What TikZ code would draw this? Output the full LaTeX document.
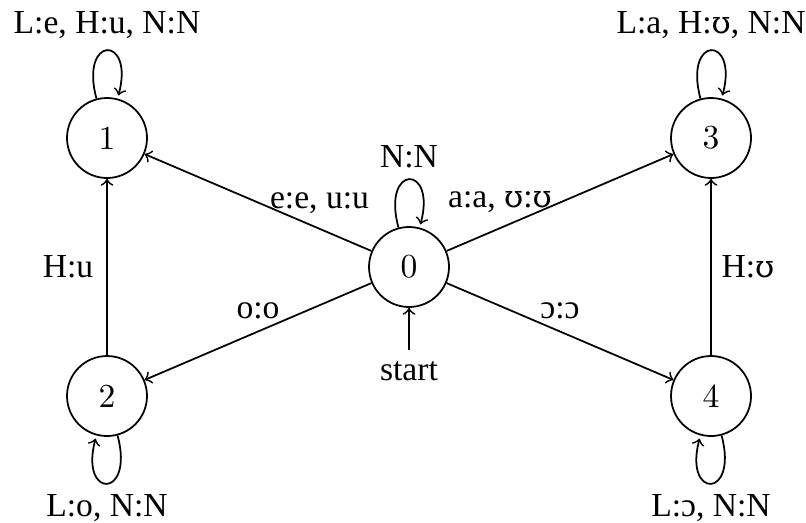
\documentclass[tikz,border=0pt]{standalone}
\usepackage{fontspec}
\newfontfamily\lblfont{Liberation Serif}
\newfontfamily\ipafont[Scale=0.92]{DejaVu Serif}
\newcommand{\upsi}{{\ipafont ʊ}}
\begin{document}
\begin{tikzpicture}[x=0.3125pt,y=0.3125pt,
  st/.style={circle,draw,line width=0.55pt,minimum size=25pt,inner sep=0pt,font=\fontsize{10.5}{12}\selectfont},
  lbl/.style={font=\lblfont\fontsize{10.5}{12}\selectfont,inner sep=3.33pt},
  tr/.style={->,line width=0.55pt},
]
\useasboundingbox (0,0) rectangle (806,522);
\node[st] (n0) at (409,255) {0};
\node[st] (n1) at (107,384) {1};
\node[st] (n2) at (107,126) {2};
\node[st] (n3) at (711,384) {3};
\node[st] (n4) at (711,126) {4};
\node[lbl,anchor=north] (start) at (409,172) {start};

\draw[tr] (start) -- (n0);
\draw[tr] (n0) -- (n1);
\draw[tr] (n0) -- (n2);
\draw[tr] (n0) -- (n3);
\draw[tr] (n0) -- (n4);
\draw[tr] (n2) -- (n1);
\draw[tr] (n4) -- (n3);

\path (n0) edge[tr,loop above] node[lbl,above] {N:N} (n0);
\path (n1) edge[tr,loop above] node[lbl,above] {L:e, H:u, N:N} (n1);
\path (n3) edge[tr,loop above] node[lbl,above] {L:a, H:\upsi, N:N} (n3);
\path (n2) edge[tr,loop below] node[lbl,below] {L:o, N:N} (n2);
\path (n4) edge[tr,loop below] node[lbl,below] {L:ɔ, N:N} (n4);

\node[lbl,anchor=base] (l01) at (319.5,314) {e:e, u:u};
\node[lbl,anchor=base] (l03) at (500,315) {a:a, \upsi:\upsi};
\node[lbl,anchor=base] (l21) at (68,245) {H:u};
\node[lbl,anchor=base] (l43) at (748,245) {H:\upsi};
\node[lbl,anchor=base] (l02) at (258,204) {o:o};
\node[lbl,anchor=base] (l04) at (560,204) {ɔ:ɔ};
\end{tikzpicture}
\end{document}
